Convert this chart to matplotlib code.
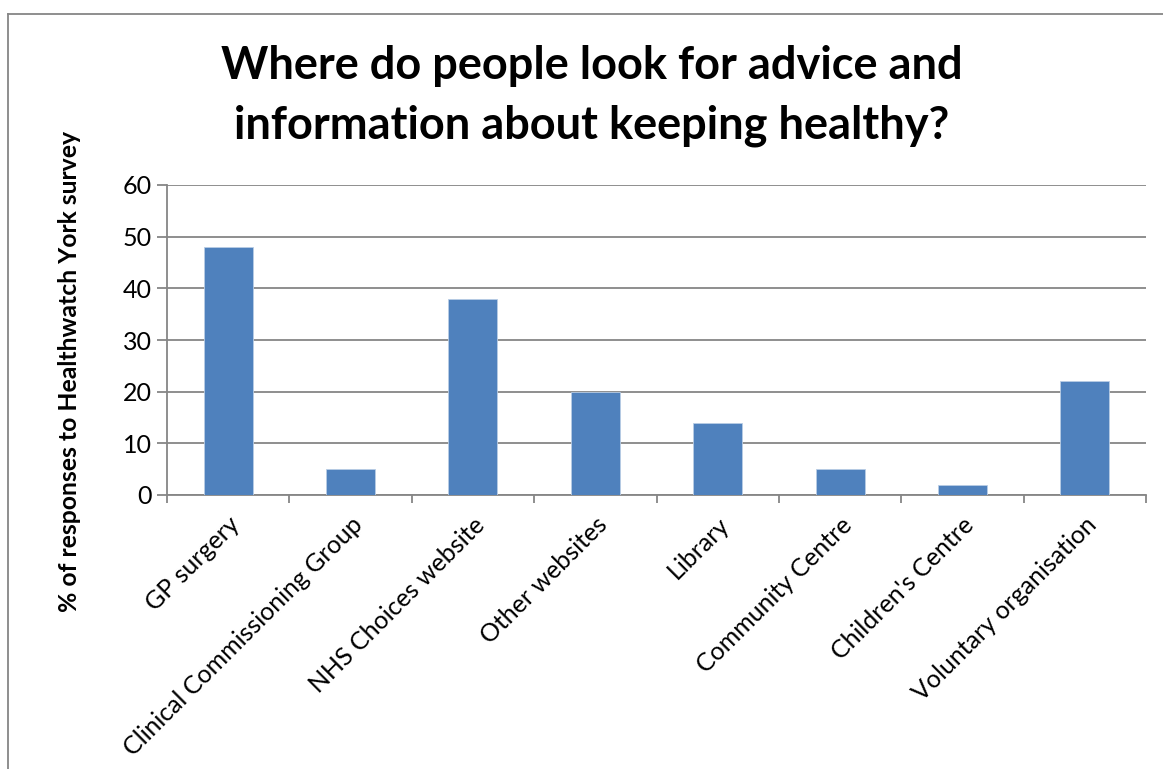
import numpy as np
import matplotlib.pyplot as plt

# Survey results
categories = ['GP surgery', 'Clinical Commissioning Group', 'NHS Choices website',
              'Other websites', 'Library', 'Community Centre', "Children's Centre",
              'Voluntary organisation']
percent = [48, 5, 38, 20, 14, 5, 2, 22]
yticks = [0, 10, 20, 30, 40, 50, 60]

plt.rcParams['font.family'] = ['Lato', 'DejaVu Sans']

fig = plt.figure(figsize=(11.63, 7.69), dpi=100)
ax = fig.add_axes([167 / 1163, 1 - 495 / 769, (1146 - 167) / 1163, (495 - 185) / 769])

x = np.arange(len(categories))
ax.bar(x, percent, width=0.4, color='#4f81bd', edgecolor='#b9cde5', linewidth=0.6, zorder=3)

ax.set_xlim(-0.5, len(categories) - 0.5)
ax.set_ylim(0, 60)
ax.set_yticks(yticks)
ax.set_yticklabels([str(v) for v in yticks], fontsize=18)
ax.grid(axis='y', color='#868686', linewidth=1.3, zorder=0)

# category boundaries as tick marks
ax.set_xticks(np.arange(len(categories) + 1) - 0.5)
ax.set_xticklabels([])
ax.set_xticks(x, minor=True)
ax.set_xticklabels(categories, minor=True, rotation=45, ha='right',
                   rotation_mode='anchor', fontsize=18)
ax.tick_params(axis='x', which='minor', length=0, pad=13)
ax.tick_params(axis='x', which='major', length=6, width=1.3, color='#868686')
ax.tick_params(axis='y', length=7, width=1.3, color='#868686', pad=4)

for s in ['top', 'right']:
    ax.spines[s].set_visible(False)
for s in ['left', 'bottom']:
    ax.spines[s].set_color('#868686')
    ax.spines[s].set_linewidth(1.3)

fig.text(592 / 1163, 1 - 96 / 769,
         'Where do people look for advice and\ninformation about keeping healthy?',
         ha='center', va='center', fontsize=32.5, fontweight='bold', linespacing=1.5)

fig.text(70 / 1163, 1 - 371 / 769, '% of responses to Healthwatch York survey',
         rotation=90, ha='center', va='center', fontsize=17.8, fontweight='bold')

# chart area border
fig.add_artist(plt.Line2D([8 / 1163, 8 / 1163], [0, 1 - 14 / 769], color='#868686', linewidth=1.3))
fig.add_artist(plt.Line2D([8 / 1163, 1], [1 - 14 / 769, 1 - 14 / 769], color='#868686', linewidth=1.3))

fig.savefig('out.png', dpi=100)
